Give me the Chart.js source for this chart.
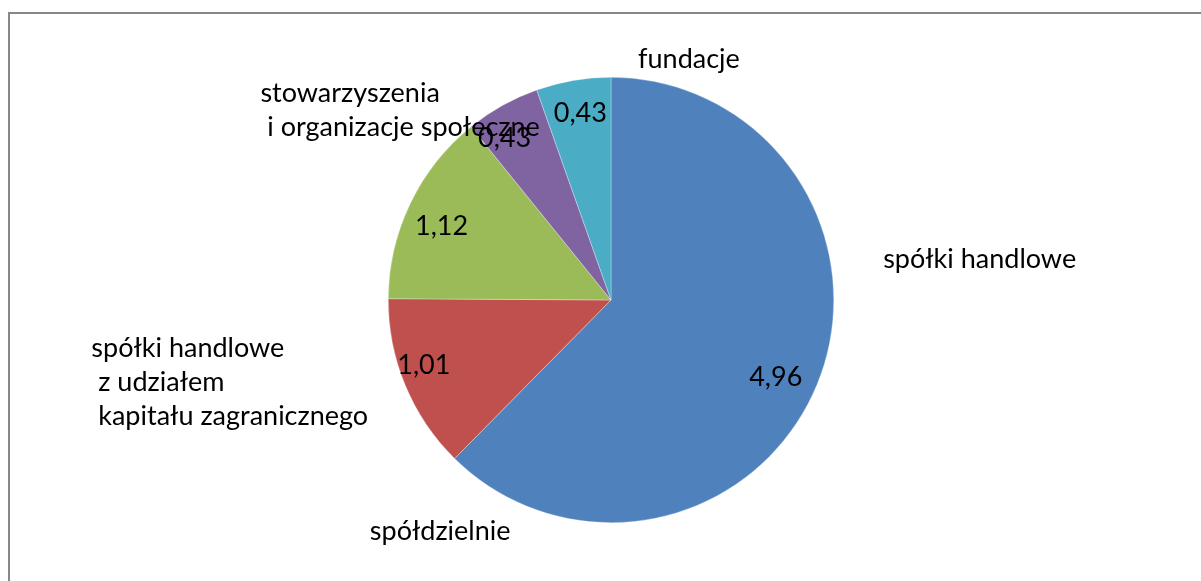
<!DOCTYPE html>
<html>
<head>
<meta charset="utf-8">
<script src="https://cdn.jsdelivr.net/npm/chart.js@4/dist/chart.umd.min.js"></script>
<style>
html,body{margin:0;padding:0;background:#fff;overflow:hidden;}
#wrap{position:relative;width:1201px;height:581px;}
</style>
</head>
<body>
<div id="wrap"><canvas id="c" width="1201" height="581"></canvas></div>
<script>
// ---- data ----
const categories = [
  'spółki handlowe',
  'spółdzielnie',
  'spółki handlowe\n z udziałem\n kapitału zagranicznego',
  'stowarzyszenia\n i organizacje społeczne',
  'fundacje'
];
const values = [4.96, 1.01, 1.12, 0.43, 0.43];
const valueLabels = ['4,96', '1,01', '1,12', '0,43', '0,43'];
const colors = ['#4F81BD', '#C0504D', '#9BBB59', '#8064A2', '#4BACC6'];

// value label placement: fraction of radius and angle shift (degrees) from slice middle
const valueLabelRadius = [0.816, 0.89, 0.83, 0.87, 0.85];
const valueLabelShift = [2.7, 3.3, -2.1, -4.1, 0.4];

// category label placement, in units of pie radius relative to pie centre (first baseline)
const catPlacement = [
  {dx: 1.655, dy: -0.143, align: 'center'},
  {dx: -0.767, dy: 1.076, align: 'center'},
  {dx: -2.333, dy: 0.254, align: 'left'},
  {dx: -1.574, dy: -0.891, align: 'left'},
  {dx: 0.350, dy: -1.040, align: 'center'}
];

const FONT = '27px Lato, "Open Sans", sans-serif';
const LINE_H = 34;

const framePlugin = {
  id: 'frame',
  beforeDraw(chart) {
    const ctx = chart.ctx;
    ctx.save();
    ctx.strokeStyle = '#878787';
    ctx.lineWidth = 2;
    ctx.beginPath();
    ctx.moveTo(9, 700);
    ctx.lineTo(9, 13);
    ctx.lineTo(1300, 13);
    ctx.stroke();
    ctx.restore();
  }
};

const labelPlugin = {
  id: 'labels',
  afterDatasetsDraw(chart) {
    const ctx = chart.ctx;
    const meta = chart.getDatasetMeta(0);
    ctx.save();
    ctx.font = FONT;
    ctx.fillStyle = '#000';
    ctx.textBaseline = 'middle';
    ctx.textAlign = 'center';
    meta.data.forEach((arc, i) => {
      const p = arc.getProps(['x', 'y', 'startAngle', 'endAngle', 'outerRadius'], true);
      const mid = (p.startAngle + p.endAngle) / 2 + valueLabelShift[i] * Math.PI / 180;
      const r = p.outerRadius * valueLabelRadius[i];
      ctx.fillText(valueLabels[i], p.x + Math.cos(mid) * r, p.y + Math.sin(mid) * r);
    });
    ctx.textBaseline = 'alphabetic';
    const a0 = meta.data[0].getProps(['x', 'y', 'outerRadius'], true);
    categories.forEach((txt, i) => {
      const pl = catPlacement[i];
      const x = a0.x + pl.dx * a0.outerRadius;
      const y = a0.y + pl.dy * a0.outerRadius;
      ctx.textAlign = pl.align;
      txt.split('\n').forEach((line, k) => {
        ctx.fillText(line, x, y + k * LINE_H);
      });
    });
    ctx.restore();
  }
};

new Chart(document.getElementById('c'), {
  type: 'pie',
  data: {
    labels: categories,
    datasets: [{
      data: values,
      backgroundColor: colors,
      borderColor: 'rgba(255,255,255,0.6)',
      borderWidth: 0.5
    }]
  },
  options: {
    responsive: false,
    animation: false,
    layout: {padding: {left: 21, right: 0, top: 77, bottom: 58}},
    plugins: {legend: {display: false}, tooltip: {enabled: false}},
    events: []
  },
  plugins: [framePlugin, labelPlugin]
});
</script>
</body>
</html>
